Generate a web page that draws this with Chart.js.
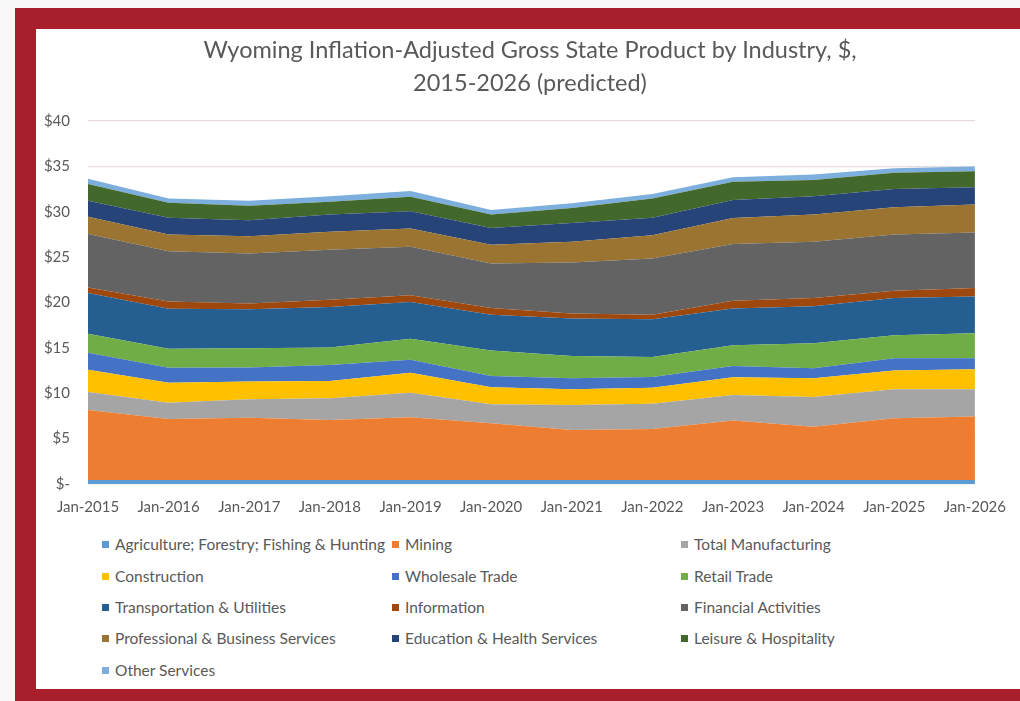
<!DOCTYPE html>
<html>
<head>
<meta charset="utf-8">
<script src="https://cdn.jsdelivr.net/npm/chart.js@4.4.1/dist/chart.umd.min.js"></script>
<style>
  html, body { margin: 0; padding: 0; width: 1020px; height: 701px; overflow: hidden; background: #f8f8f8; font-family: Lato, "Open Sans", sans-serif; }
  #frame { position: absolute; left: 15px; top: 8px; width: 1010px; height: 700px; background: #a81e2b; }
  #inner { position: absolute; left: 36px; top: 29px; width: 990px; height: 660px; background: #ffffff; }
  #wrap { position: absolute; left: 36px; top: 29px; width: 984px; height: 500px; }
  #title { position: absolute; left: 130px; top: 33px; width: 800px; text-align: center; font-size: 23.5px; line-height: 33px; color: #595959; white-space: nowrap; }
  #legend { position: absolute; left: 0; top: 0; }
  .item { position: absolute; font-size: 15.5px; color: #595959; white-space: nowrap; line-height: 18px; }
  .sw { position: absolute; left: 0; top: 6px; width: 7px; height: 7px; }
  .tx { position: absolute; left: 13px; top: 0; }
</style>
</head>
<body>
<div id="frame"></div>
<div id="inner"></div>
<div id="wrap"><canvas id="c" width="984" height="500"></canvas></div>
<div id="title"></div>
<div id="legend"></div>
<script>
const categories = ['Jan-2015','Jan-2016','Jan-2017','Jan-2018','Jan-2019','Jan-2020','Jan-2021','Jan-2022','Jan-2023','Jan-2024','Jan-2025','Jan-2026'];

const agriculture    = [0.45, 0.45, 0.45, 0.45, 0.45, 0.45, 0.45, 0.45, 0.45, 0.45, 0.45, 0.45];
const mining         = [7.7, 6.7, 6.85, 6.6, 6.9, 6.25, 5.5, 5.6, 6.55, 5.85, 6.8, 7.0];
const manufacturing  = [2.0, 1.8, 2.05, 2.4, 2.7, 2.1, 2.75, 2.8, 2.8, 3.3, 3.2, 3.0];
const construction   = [2.45, 2.2, 1.95, 1.9, 2.2, 1.85, 1.75, 1.75, 1.95, 2.05, 2.05, 2.2];
const wholesale      = [1.85, 1.65, 1.55, 1.75, 1.45, 1.25, 1.2, 1.2, 1.25, 1.1, 1.35, 1.2];
const retail         = [2.1, 2.1, 2.1, 1.95, 2.3, 2.8, 2.45, 2.2, 2.3, 2.75, 2.55, 2.75];
const transportation = [4.5, 4.4, 4.3, 4.45, 4.05, 3.95, 4.15, 4.15, 4.05, 4.1, 4.1, 4.05];
const information    = [0.6, 0.8, 0.65, 0.8, 0.75, 0.75, 0.55, 0.5, 0.85, 0.9, 0.8, 0.95];
const financial      = [5.9, 5.55, 5.5, 5.5, 5.35, 4.9, 5.6, 6.2, 6.25, 6.2, 6.2, 6.1];
const professional   = [1.9, 1.85, 1.9, 2.0, 2.0, 2.05, 2.3, 2.55, 2.85, 3.0, 3.0, 3.1];
const education      = [1.75, 1.85, 1.75, 1.9, 1.9, 1.85, 2.05, 1.95, 2.0, 2.0, 2.0, 1.9];
const leisure        = [1.85, 1.65, 1.6, 1.4, 1.6, 1.5, 1.65, 2.1, 2.0, 1.8, 1.8, 1.75];
const otherServices  = [0.6, 0.45, 0.55, 0.6, 0.65, 0.5, 0.55, 0.5, 0.5, 0.6, 0.5, 0.55];

const seriesNames = ['Agriculture; Forestry; Fishing & Hunting','Mining','Total Manufacturing','Construction','Wholesale Trade','Retail Trade','Transportation & Utilities','Information','Financial Activities','Professional & Business Services','Education & Health Services','Leisure & Hospitality','Other Services'];
const seriesValues = [agriculture, mining, manufacturing, construction, wholesale, retail, transportation, information, financial, professional, education, leisure, otherServices];
const seriesColors = ['#5b9bd5','#ed7d31','#a5a5a5','#ffc000','#4472c4','#70ad47','#255e91','#9e480e','#636363','#9a7430','#264478','#43682b','#7cafdd'];

const yTickValues = [0, 5, 10, 15, 20, 25, 30, 35, 40];
const yTickLabels = ['$-', '$5', '$10', '$15', '$20', '$25', '$30', '$35', '$40'];

const titleLines = ['Wyoming Inflation-Adjusted Gross State Product by Industry, $,', '2015-2026 (predicted)'];

const textColor = '#595959';
const fontFam = 'Lato, "Open Sans", sans-serif';

const titleEl = document.getElementById('title');
titleLines.forEach(line => {
  const d = document.createElement('div');
  d.textContent = line;
  titleEl.appendChild(d);
});

const datasets = seriesNames.map((name, i) => ({
  label: name,
  data: seriesValues[i],
  backgroundColor: seriesColors[i],
  borderColor: seriesColors[i],
  borderWidth: 0,
  pointRadius: 0,
  pointHoverRadius: 0,
  tension: 0,
  fill: i === 0 ? 'origin' : '-1'
}));

const chart = new Chart(document.getElementById('c'), {
  type: 'line',
  data: { labels: categories, datasets: datasets },
  options: {
    responsive: false,
    animation: false,
    events: [],
    layout: { padding: { left: 0, right: 41, top: 92, bottom: 0 } },
    plugins: {
      legend: { display: false },
      tooltip: { enabled: false },
      title: { display: false }
    },
    scales: {
      x: {
        offset: false,
        grid: { display: false, drawTicks: false },
        border: { display: false },
        ticks: { color: textColor, font: { family: fontFam, size: 15 }, padding: 14, maxRotation: 0, autoSkip: false },
        afterFit: (axis) => { axis.height = 45; }
      },
      y: {
        stacked: true,
        min: 0,
        max: 40,
        afterBuildTicks: (axis) => { axis.ticks = yTickValues.map(v => ({ value: v })); },
        grid: { color: '#e6dada', lineWidth: 1.3, drawTicks: false },
        border: { display: false },
        ticks: {
          color: textColor,
          font: { family: fontFam, size: 15 },
          padding: 18,
          callback: (v) => { const k = yTickValues.indexOf(v); return k >= 0 ? yTickLabels[k] : ''; }
        },
        afterFit: (axis) => { axis.width = 52; }
      }
    }
  }
});

// HTML legend built from the chart's datasets
const legend = document.getElementById('legend');
const colX = [102, 392, 681];
const rowY = [535, 567, 598, 629, 661];
chart.data.datasets.forEach((ds, i) => {
  const item = document.createElement('div');
  item.className = 'item';
  item.style.left = colX[i % 3] + 'px';
  item.style.top = rowY[Math.floor(i / 3)] + 'px';
  const sw = document.createElement('span');
  sw.className = 'sw';
  sw.style.background = ds.backgroundColor;
  const tx = document.createElement('span');
  tx.className = 'tx';
  tx.textContent = ds.label;
  item.appendChild(sw);
  item.appendChild(tx);
  legend.appendChild(item);
});
</script>
</body>
</html>
